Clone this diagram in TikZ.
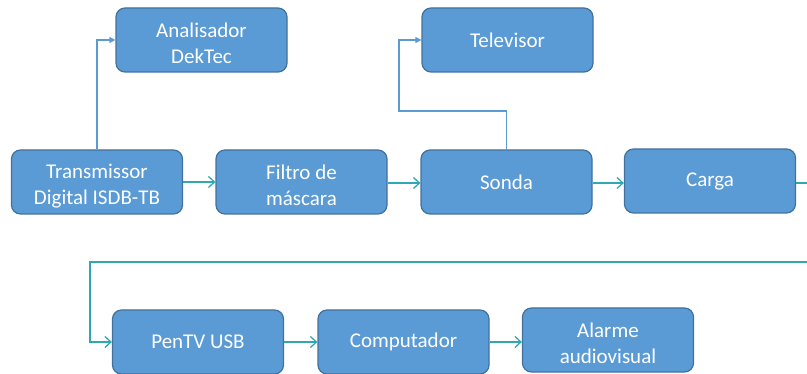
\documentclass[tikz,border=0pt]{standalone}
\usepackage{fontspec}
\setmainfont{Carlito}
\usetikzlibrary{arrows.meta}
\definecolor{boxfill}{HTML}{5B9BD5}
\definecolor{boxline}{HTML}{41719C}
\definecolor{teal}{HTML}{2FA8B4}
\definecolor{branch}{HTML}{5B9BD5}
\newcommand{\lowstrut}{\rule{0pt}{22pt}}
\tikzset{
  blk/.style={draw=boxline, line width=1.2pt, fill=boxfill, rounded corners=9pt,
    minimum width=171pt, minimum height=64pt, inner sep=0pt, align=center,
    text=white, font=\fontsize{21}{26}\selectfont},
  flow/.style={draw=teal, line width=1.5pt, -{Straight Barb[length=6pt,width=11pt,line width=1.3pt]}},
  side/.style={draw=branch, line width=1.4pt, -{Triangle[length=6pt,width=6pt]}}
}
\begin{document}
\begin{tikzpicture}[x=1pt,y=-1pt]
\useasboundingbox (0,0) rectangle (807,374);
\clip (0,0) rectangle (807,374);
\node[blk] (ana) at (201.5,40) {\lowstrut Analisador\\DekTec};
\node[blk] (tx) at (97,182) {\lowstrut Transmissor\\Digital ISDB-TB};
\node[blk] (fil) at (301.5,182) {\lowstrut Filtro de\\máscara};
\node[blk] (tv) at (507.5,40) {Televisor};
\node[blk] (son) at (506.5,182) {Sonda};
\node[blk] (car) at (710,181) {Carga};
\node[blk] (pen) at (198,342) {PenTV USB};
\node[blk] (com) at (403.5,342) {Computador};
\node[blk] (ala) at (608,340) {\lowstrut Alarme\\audiovisual};
\coordinate (r1) at (830,183);
\coordinate (r2) at (830,262);
\coordinate (l1) at (90,262);
\coordinate (sb) at (399,111);
\draw[flow] (tx.east |- 0,182) -- (fil.west |- 0,182);
\draw[flow] (fil.east |- 0,183) -- (son.west |- 0,183);
\draw[flow] (son.east |- 0,183) -- (car.west |- 0,183);
\draw[flow] (car.east |- 0,183) -- (r1) -- (r2) -- (l1) |- (pen.west);
\draw[flow] (pen) -- (com);
\draw[flow] (com) -- (ala.west |- com);
\draw[side] (tx.north) |- (ana.west);
\draw[side] (son.north) |- (sb) |- (tv.west);
\end{tikzpicture}
\end{document}
